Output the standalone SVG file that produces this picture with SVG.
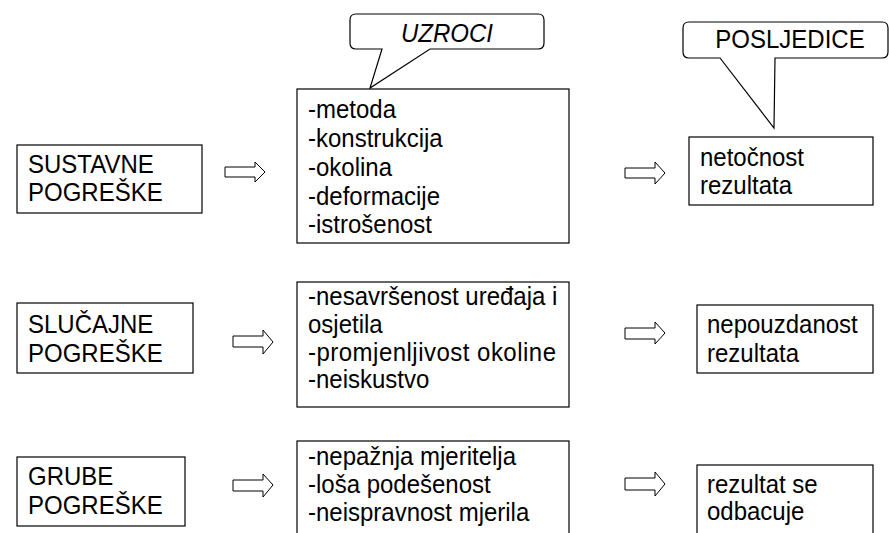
<svg xmlns="http://www.w3.org/2000/svg" width="889" height="533" viewBox="0 0 889 533">
<style>
.box{fill:#fff;stroke:#000;stroke-width:1.2}
.arr{fill:#fff;stroke:#000;stroke-width:1}
.t{font-family:"Liberation Sans",Arial,sans-serif;font-size:24px;fill:#000}
.i{font-style:italic}
</style>
<rect width="889" height="533" fill="#fff"/>
<g id="callout-uzroci">
<path class="box" d="M356,14 H538 Q544,14 544,20 V43 Q544,49 538,49 H430 L370,88 L382,49 H356 Q350,49 350,43 V20 Q350,14 356,14 Z"/>
<text class="t i" text-anchor="middle" transform="translate(447,42) scale(1,1.05)">UZROCI</text>
</g>
<g id="callout-posljedice">
<path class="box" d="M689,22 H882 Q888,22 888,28 V52 Q888,58 882,58 H775 L774,128 L720,58 H689 Q683,58 683,52 V28 Q683,22 689,22 Z"/>
<text class="t" text-anchor="middle" transform="translate(790,48) scale(1,1.05)">POSLJEDICE</text>
</g>
<g id="sustavne">
<rect class="box" x="17" y="145" width="185" height="68"/>
<text class="t" transform="translate(28,173) scale(1,1.05)"><tspan x="0" y="0">SUSTAVNE</tspan><tspan x="0" y="26.7">POGREŠKE</tspan></text>
</g>
<g id="uzroci1">
<rect class="box" x="297" y="89" width="272" height="154"/>
<text class="t" transform="translate(308,118) scale(1,1.05)"><tspan x="0" y="0">-metoda</tspan><tspan x="0" y="27.6">-konstrukcija</tspan><tspan x="0" y="55.2">-okolina</tspan><tspan x="0" y="82.9">-deformacije</tspan><tspan x="0" y="109.5">-istrošenost</tspan></text>
</g>
<g id="posljedica1">
<rect class="box" x="689" y="137" width="184" height="68"/>
<text class="t" transform="translate(700,166) scale(1,1.05)"><tspan x="0" y="0">netočnost</tspan><tspan x="0" y="26.7">rezultata</tspan></text>
</g>
<g id="slucajne">
<rect class="box" x="17" y="303" width="176" height="70"/>
<text class="t" transform="translate(28,333) scale(1,1.05)"><tspan x="0" y="0">SLUČAJNE</tspan><tspan x="0" y="27.6">POGREŠKE</tspan></text>
</g>
<g id="uzroci2">
<rect class="box" x="297" y="282" width="272" height="125"/>
<text class="t" transform="translate(308,305) scale(1,1.05)"><tspan x="0" y="0">-nesavršenost uređaja i</tspan><tspan x="0" y="26.7">osjetila</tspan><tspan x="0" y="53.3" textLength="248" lengthAdjust="spacing">-promjenljivost okoline</tspan><tspan x="0" y="79">-neiskustvo</tspan></text>
</g>
<g id="posljedica2">
<rect class="box" x="697" y="305" width="176" height="68"/>
<text class="t" transform="translate(707,333) scale(1,1.05)"><tspan x="0" y="0">nepouzdanost</tspan><tspan x="0" y="27.6">rezultata</tspan></text>
</g>
<g id="grube">
<rect class="box" x="17" y="457" width="168" height="69"/>
<text class="t" transform="translate(28,485) scale(1,1.05)"><tspan x="0" y="0">GRUBE</tspan><tspan x="0" y="27.6">POGREŠKE</tspan></text>
</g>
<g id="uzroci3">
<rect class="box" x="297" y="441" width="272" height="110"/>
<text class="t" transform="translate(308,465) scale(1,1.05)"><tspan x="0" y="0">-nepažnja mjeritelja</tspan><tspan x="0" y="26.7">-loša podešenost</tspan><tspan x="0" y="53.3">-neispravnost mjerila</tspan></text>
</g>
<g id="posljedica3">
<rect class="box" x="697" y="465" width="176" height="90"/>
<text class="t" transform="translate(707,493) scale(1,1.05)"><tspan x="0" y="0">rezultat se</tspan><tspan x="0" y="26">odbacuje</tspan></text>
</g>
<g id="connectors">
<path class="arr" d="M225,167 H255 V162 L265,172 L255,182 V177 H225 Z"/>
<path class="arr" d="M625,168 H655 V162 L665,173 L655,184 V178 H625 Z"/>
<path class="arr" d="M233,336 H263 V330 L273,342 L263,354 V347 H233 Z"/>
<path class="arr" d="M625,328 H655 V322 L665,333 L655,344 V339 H625 Z"/>
<path class="arr" d="M233,480 H263 V474 L273,485 L263,497 V491 H233 Z"/>
<path class="arr" d="M625,478 H655 V472 L665,484 L655,496 V490 H625 Z"/>
</g>
</svg>
